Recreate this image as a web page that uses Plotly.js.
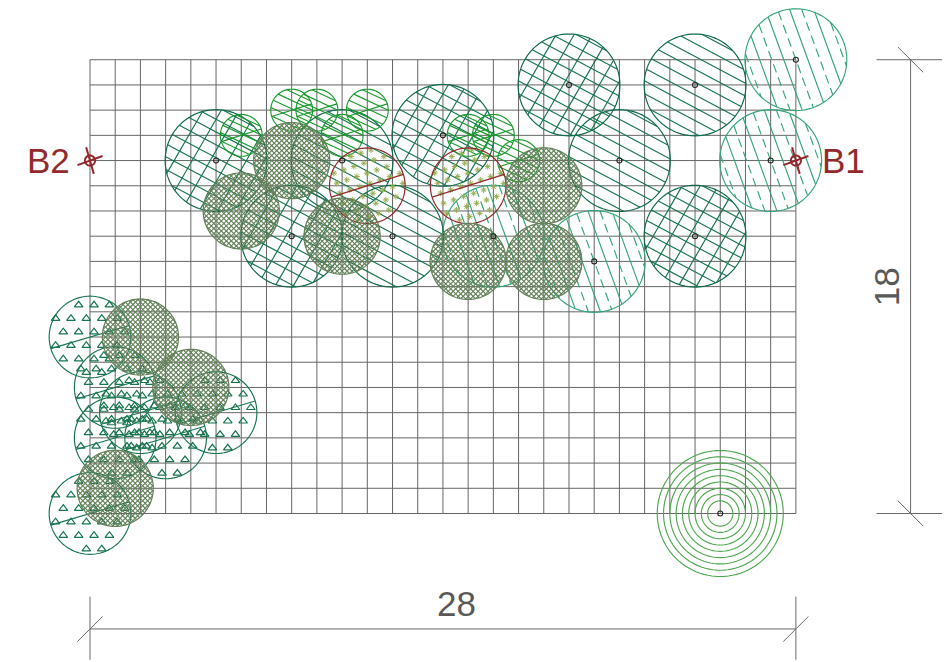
<!DOCTYPE html>
<html><head><meta charset="utf-8">
<script src="https://cdn.plot.ly/plotly-3.0.1.min.js"></script>
<style>html,body{margin:0;padding:0;background:#fff}#c{width:951px;height:662px}</style>
</head><body><div id="c"></div>
<script>
// Plan data, in grid units (1 unit = one grid cell; origin = lower-left plot corner)
var gridWidth = 28, gridHeight = 18;
var crossX = [5, 8, 14, 19, 24],            crossY = [14, 11, 15, 17, 11];
var singleX = [10, 12, 21, 24],             singleY = [14, 11, 14, 17];
var lightX = [28, 27, 20, 16],              lightY = [18, 14, 10, 11];
var smallX = [8, 9, 11, 6, 10, 15, 16, 17], smallY = [16, 16, 16, 15, 15, 15, 15, 14];
var oliveX = [8, 6, 10, 18, 15, 18, 2, 4, 1], oliveY = [14, 12, 11, 13, 10, 10, 7, 5, 1];
var redX = [11, 15],                        redY = [13, 13];
var triX = [0, 1, 2, 1, 3, 5, 0],           triY = [7, 5, 4, 3, 3, 4, 0];
var ringX = [25], ringY = [0], ringRadii = [0.5, 0.75, 1, 1.25, 1.5, 1.75, 2, 2.25, 2.5];
var bigRadius = 2.02, smallRadius = 0.83, oliveRadius = 1.51, redRadius = 1.5, triRadius = 1.62;
var sectionLabels = ['B1', 'B2'], sectionX = [28, 0], sectionY = [14, 14];
var dimLabels = ['28', '18'];

var U = 25.21, X0 = 90, Y0 = 513.5;
var W = 951, H = 662;
var GREEN = '#17754f', EDGE = '#0f6a4a', BRIGHT = '#1a9a2c', LIGHT = '#35a578',
    OLIVE = '#64805a', RED = '#93292c', GRID = '#666666', RING = '#4fa84f', DIM = '#6a6a6a';

function path() { return {x: [], y: []}; }
function seg(p, x1, y1, x2, y2) { p.x.push(x1, x2, null); p.y.push(y1, y2, null); }
function circ(p, cx, cy, r) {
  for (var i = 0; i <= 96; i++) {
    var a = i / 96 * 2 * Math.PI;
    p.x.push(cx + r * Math.cos(a)); p.y.push(cy + r * Math.sin(a));
  }
  p.x.push(null); p.y.push(null);
}
function hatch(p, cx, cy, r, deg, step, off) {
  var a = deg * Math.PI / 180, dx = Math.cos(a), dy = Math.sin(a), nx = -dy, ny = dx;
  var n = Math.ceil(r / step) + 1;
  for (var i = -n; i <= n; i++) {
    var d = i * step + (off || 0);
    if (Math.abs(d) >= r) continue;
    var h = Math.sqrt(r * r - d * d);
    seg(p, cx + nx * d - dx * h, cy + ny * d - dy * h, cx + nx * d + dx * h, cy + ny * d + dy * h);
  }
}
function lineTrace(p, color, width, dash) {
  return {type: 'scatter', mode: 'lines', x: p.x, y: p.y, hoverinfo: 'skip', showlegend: false,
    line: {color: color, width: width, dash: dash || 'solid', simplify: false}, connectgaps: false};
}
function lattice(cx, cy, r, ax, ay, bx, by, ox, oy, out) {
  var n = Math.ceil(r * 4);
  for (var i = -n; i <= n; i++) for (var j = -n; j <= n; j++) {
    var x = i * ax + j * bx + ox, y = i * ay + j * by + oy;
    if (x * x + y * y < (r - 0.06) * (r - 0.06)) { out.x.push(cx + x); out.y.push(cy + y); }
  }
}
var data = [];

// grid
var g = path(), i;
for (i = 0; i <= gridWidth; i++) seg(g, i, 0, i, gridHeight);
for (i = 0; i <= gridHeight; i++) seg(g, 0, i, gridWidth, i);
data.push(lineTrace(g, GRID, 1));

// dimensions
var d = path();
seg(d, 0, -4.58, gridWidth, -4.58);
seg(d, 0, -3.3, 0, -5.8); seg(d, gridWidth, -3.3, gridWidth, -5.8);
seg(d, -0.5, -5.08, 0.5, -4.08); seg(d, gridWidth - 0.5, -5.08, gridWidth + 0.5, -4.08);
seg(d, 32.55, 0, 32.55, gridHeight);
seg(d, 31.2, 0, 33.8, 0); seg(d, 31.2, gridHeight, 33.8, gridHeight);
seg(d, 32.05, 0.5, 33.05, -0.5); seg(d, 32.05, gridHeight + 0.5, 33.05, gridHeight - 0.5);
data.push(lineTrace(d, DIM, 1));

// light dashed trees
var ls = path(), ld = path(), le = path();
lightX.forEach(function (x, k) {
  hatch(ls, x, lightY[k], bigRadius, -70, 0.9, 0.45);
  hatch(ld, x, lightY[k], bigRadius, -70, 0.9, 0);
  circ(le, x, lightY[k], bigRadius);
});
data.push(lineTrace(ls, LIGHT, 1.15));
data.push(lineTrace(ld, LIGHT, 1.15, '9px,5px'));
data.push(lineTrace(le, LIGHT, 1.15));

// single hatch trees
var sh = path(), se = path();
singleX.forEach(function (x, k) {
  hatch(sh, x, singleY[k], bigRadius, -28, 0.45, 0.1);
  circ(se, x, singleY[k], bigRadius);
});
data.push(lineTrace(sh, GREEN, 1.15));
data.push(lineTrace(se, EDGE, 1.15));

// cross hatch trees
var ch = path(), ce = path();
crossX.forEach(function (x, k) {
  hatch(ch, x, crossY[k], bigRadius, -28, 0.45, 0.1);
  hatch(ch, x, crossY[k], bigRadius, 60, 0.62, 0.2);
  circ(ce, x, crossY[k], bigRadius);
});
data.push(lineTrace(ch, GREEN, 1.15));
data.push(lineTrace(ce, EDGE, 1.15));

// small bright trees
var bh = path();
smallX.forEach(function (x, k) {
  hatch(bh, x, smallY[k], smallRadius, -25, 0.3, 0.05);
  hatch(bh, x, smallY[k], smallRadius, 17.5, 9, 0);
  circ(bh, x, smallY[k], smallRadius);
});
data.push(lineTrace(bh, BRIGHT, 1.15));

// triangle shrubs
var tl = path(), tp = {x: [], y: []};
triX.forEach(function (x, k) {
  circ(tl, x, triY[k], triRadius);
  hatch(tl, x, triY[k], triRadius, 16.5, 9, 0);
  lattice(x, triY[k], triRadius, 0.61, 0, 0.305, 0.535, 0.16, 0.2, tp);
});
data.push(lineTrace(tl, GREEN, 1.15));
data.push({type: 'scatter', mode: 'markers', x: tp.x, y: tp.y, hoverinfo: 'skip', showlegend: false,
  marker: {symbol: 'triangle-up-open', size: 7.5, color: GREEN, line: {width: 1.2, color: GREEN}}});

// red shrubs with glyphs
var rl = path(), rp = {x: [], y: []};
redX.forEach(function (x, k) {
  circ(rl, x, redY[k], redRadius);
  hatch(rl, x, redY[k], redRadius, 17.5, 9, 0);
  lattice(x, redY[k], redRadius, 0.515, -0.266, 0.397, 0.131, 0.1, 0.1, rp);
});
data.push({type: 'scatter', mode: 'markers', x: rp.x, y: rp.y, hoverinfo: 'skip', showlegend: false,
  marker: {symbol: 'asterisk-open', size: 5, color: '#98ae52', line: {width: 1, color: '#98ae52'}}});
data.push(lineTrace(rl, RED, 1.2));

// dense olive trees
var oh = path(), oe = path();
oliveX.forEach(function (x, k) {
  hatch(oh, x, oliveY[k], oliveRadius, 45, 0.14, 0);
  hatch(oh, x, oliveY[k], oliveRadius, -45, 0.14, 0);
  circ(oe, x, oliveY[k], oliveRadius);
});
data.push(lineTrace(oh, OLIVE, 1.15));
data.push(lineTrace(oe, OLIVE, 1.2));

// concentric rings
var rg = path();
ringRadii.forEach(function (r) { circ(rg, ringX[0], ringY[0], r); });
data.push(lineTrace(rg, RING, 1.15));

// centre dots
data.push({type: 'scatter', mode: 'markers', hoverinfo: 'skip', showlegend: false,
  x: crossX.concat(singleX, lightX, ringX), y: crossY.concat(singleY, lightY, ringY),
  marker: {symbol: 'circle-open', size: 5, color: '#222', line: {width: 1.1, color: '#222'}}});

// section markers
var sm = path();
sectionX.forEach(function (x, k) {
  var y = sectionY[k];
  circ(sm, x, y, 0.2);
  hatch(sm, x, y, 0.53, 20, 9, 0);
  hatch(sm, x, y, 0.55, -74, 9, 0);
});
data.push(lineTrace(sm, RED, 2));

var font = 'Liberation Sans, Arial, sans-serif';
var annotations = [
  {x: 29.9, y: 13.99, text: sectionLabels[0], font: {family: font, size: 35, color: RED}},
  {x: -1.66, y: 13.99, text: sectionLabels[1], font: {family: font, size: 35, color: RED}},
  {x: 14.55, y: -3.57, text: dimLabels[0], font: {family: font, size: 35, color: '#595959'}},
  {x: 31.6, y: 9, text: dimLabels[1], textangle: -90, font: {family: font, size: 35, color: '#595959'}}
].map(function (a) { a.xref = 'x'; a.yref = 'y'; a.showarrow = false; a.xanchor = 'center'; a.yanchor = 'middle'; return a; });

var hiddenAxis = {showgrid: false, zeroline: false, showticklabels: false, ticks: '', showline: false, fixedrange: true};
var layout = {
  width: W, height: H, margin: {l: 0, r: 0, t: 0, b: 0}, paper_bgcolor: '#fff', plot_bgcolor: '#fff',
  showlegend: false, annotations: annotations,
  xaxis: Object.assign({range: [-X0 / U, (W - X0) / U]}, hiddenAxis),
  yaxis: Object.assign({range: [(Y0 - H) / U, Y0 / U]}, hiddenAxis)
};
Plotly.newPlot('c', data, layout, {staticPlot: true, displayModeBar: false});
</script></body></html>
